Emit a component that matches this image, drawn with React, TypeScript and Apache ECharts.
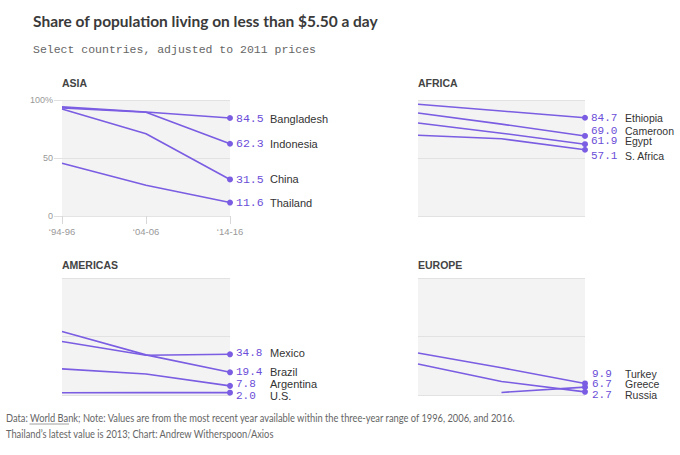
import React, { useEffect, useRef } from "react";
import * as echarts from "echarts";

// ---------- data ----------
const periods = ["\u201894-96", "\u201804-06", "\u201814-16"];
const yTickValues = [0, 50, 100];

const asiaCountries = ["Bangladesh", "Indonesia", "China", "Thailand"];
const asiaValues = [
  [94.1, 89.7, 84.5],
  [93.2, 89.5, 62.3],
  [92.3, 70.9, 31.5],
  [45.4, 26.5, 11.6],
];

const africaCountries = ["Ethiopia", "Cameroon", "Egypt", "S. Africa"];
const africaValues = [
  [96.3, 90.5, 84.7],
  [88.8, 79.2, 69.0],
  [80.2, 71.4, 61.9],
  [69.6, 66.6, 57.1],
];

const americasCountries = ["Mexico", "Brazil", "Argentina", "U.S."];
const americasValues = [
  [45.7, 34.0, 34.8],
  [54.3, 34.3, 19.4],
  [22.3, 18.0, 7.8],
  [1.9, 2.0, 2.0],
];

const europeCountries = ["Turkey", "Greece", "Russia"];
const europeValues = [
  [35.9, 23.3, 9.9],
  [null, 2.2, 6.7],
  [26.5, 11.6, 2.7],
];

const regionNames = ["ASIA", "AFRICA", "AMERICAS", "EUROPE"];

// ---------- styling / layout (not data) ----------
const PURPLE = "#7a5de2";
const VALUE_PURPLE = "#6a4dd8";
const SANS = "'Liberation Sans', Arial, sans-serif";
const MONO = "'Liberation Mono', 'DejaVu Sans Mono', monospace";
const LATO = "Lato, 'Liberation Sans', sans-serif";

const grids = [
  { left: 62, top: 100, width: 168, height: 116 },
  { left: 418, top: 100, width: 167, height: 116 },
  { left: 62, top: 278, width: 168, height: 117 },
  { left: 418, top: 278, width: 167, height: 117 },
];

// vertical nudges of end labels to avoid overlap
const labelNudge: Record<string, number> = {
  Bangladesh: 1,
  Indonesia: 0,
  China: 0,
  Thailand: 0,
  Ethiopia: 0,
  Cameroon: -5,
  Egypt: -2.7,
  "S. Africa": 6.2,
  Mexico: -1,
  Brazil: 0,
  Argentina: -2,
  "U.S.": 3.2,
  Turkey: -9.9,
  Greece: -3.2,
  Russia: 2.7,
};

const regions = [
  { names: asiaCountries, values: asiaValues },
  { names: africaCountries, values: africaValues },
  { names: americasCountries, values: americasValues },
  { names: europeCountries, values: europeValues },
];

function buildOption() {
  const series: any[] = [];
  regions.forEach((reg, gi) => {
    const tight = gi !== 0;
    const lh = gi === 0 ? 14 : 9;
    reg.names.forEach((name, si) => {
      const vals = reg.values[si];
      const last = vals.length - 1;
      series.push({
        type: "line",
        name,
        xAxisIndex: gi,
        yAxisIndex: gi,
        connectNulls: false,
        showSymbol: true,
        symbol: "none",
        lineStyle: { color: PURPLE, width: 1.6 },
        itemStyle: { color: PURPLE },
        z: 3,
        data: vals.map((v, i) =>
          i === last
            ? {
                value: v,
                symbol: "circle",
                symbolSize: 6,
                label: {
                  show: true,
                  position: "right",
                  distance: gi === 3 ? 4 : 3,
                  offset: [0, labelNudge[name] || 0],
                  formatter: `{v|${(v as number).toFixed(1)}}{n|${name}}`,
                  rich: {
                    v: {
                      fontFamily: MONO,
                      fontSize: tight ? 11 : 11.5,
                      color: VALUE_PURPLE,
                      width: gi === 3 ? 33 : 34,
                      lineHeight: lh,
                    },
                    n: {
                      fontFamily: SANS,
                      fontSize: gi === 1 || gi === 3 ? 10.5 : 11,
                      color: "#333",
                      lineHeight: lh,
                    },
                  },
                },
              }
            : { value: v, symbol: "none" }
        ),
      });
    });
  });

  const xAxis = grids.map((_, gi) => ({
    type: "category",
    gridIndex: gi,
    data: periods,
    boundaryGap: false,
    axisLine: { show: gi === 0, lineStyle: { color: "#e4e4e4" } },
    axisTick: {
      show: gi === 0,
      length: 8,
      alignWithLabel: true,
      lineStyle: { color: "#d8d8d8" },
    },
    axisLabel: {
      show: gi === 0,
      margin: 10,
      fontFamily: SANS,
      fontSize: 9.5,
      color: "#999",
    },
    splitLine: { show: false },
  }));

  const yAxis = grids.map((_, gi) => ({
    type: "value",
    gridIndex: gi,
    min: 0,
    max: 100,
    interval: 50,
    axisLine: { show: false },
    axisTick: {
      show: gi === 0,
      length: 8,
      lineStyle: { color: "#e0e0e0" },
    },
    axisLabel: {
      show: gi === 0,
      margin: 9,
      fontFamily: SANS,
      fontSize: 9,
      color: "#999",
      customValues: yTickValues,
      formatter: (v: number) => (v === 100 ? "100%" : String(v)),
    },
    splitLine: { show: true, lineStyle: { color: "#e2e2e2", width: 1 } },
  }));

  const graphic: any[] = [
    {
      type: "text",
      x: 33,
      y: 21,
      style: {
        text: "Share of population living on less than $5.50 a day",
        fontFamily: LATO,
        fontSize: 15.5,
        fontWeight: 700,
        fill: "#3a3a3a",
        textVerticalAlign: "middle",
      },
    },
    {
      type: "text",
      x: 33,
      y: 49,
      style: {
        text: "Select countries, adjusted to 2011 prices",
        fontFamily: MONO,
        fontSize: 11.5,
        fill: "#666",
        textVerticalAlign: "middle",
      },
    },
    {
      type: "text",
      x: 6,
      y: 418,
      scaleX: 0.888,
      style: {
        text:
          "Data: World Bank; Note: Values are from the most recent year available within the three-year range of 1996, 2006, and 2016.",
        fontFamily: LATO,
        fontSize: 10.5,
        fill: "#666",
        textVerticalAlign: "middle",
      },
    },
    {
      type: "line",
      shape: { x1: 29.5, y1: 424, x2: 69, y2: 424 },
      style: { stroke: "#888", lineWidth: 0.8 },
    },
    {
      type: "text",
      x: 6,
      y: 434,
      scaleX: 0.888,
      style: {
        text: "Thailand\u2019s latest value is 2013; Chart: Andrew Witherspoon/Axios",
        fontFamily: LATO,
        fontSize: 10.5,
        fill: "#666",
        textVerticalAlign: "middle",
      },
    },
  ];
  regionNames.forEach((r, gi) => {
    graphic.push({
      type: "text",
      x: grids[gi].left,
      y: gi < 2 ? 83 : 265,
      style: {
        text: r,
        fontFamily: SANS,
        fontSize: 10.5,
        fontWeight: 600,
        fill: "#444",
        textVerticalAlign: "middle",
      },
    });
  });

  return {
    animation: false,
    backgroundColor: "#ffffff",
    grid: grids.map((g) => ({
      ...g,
      show: true,
      backgroundColor: "#f3f3f3",
      borderWidth: 0,
      containLabel: false,
    })),
    xAxis,
    yAxis,
    series,
    graphic,
  };
}

export default function App() {
  const ref = useRef<HTMLDivElement>(null);
  useEffect(() => {
    document.body.style.margin = "0";
    if (!ref.current) return;
    const chart = echarts.init(ref.current, undefined, { renderer: "svg" });
    chart.setOption(buildOption() as any);
    return () => chart.dispose();
  }, []);
  return <div ref={ref} style={{ width: 680, height: 455 }} />;
}
